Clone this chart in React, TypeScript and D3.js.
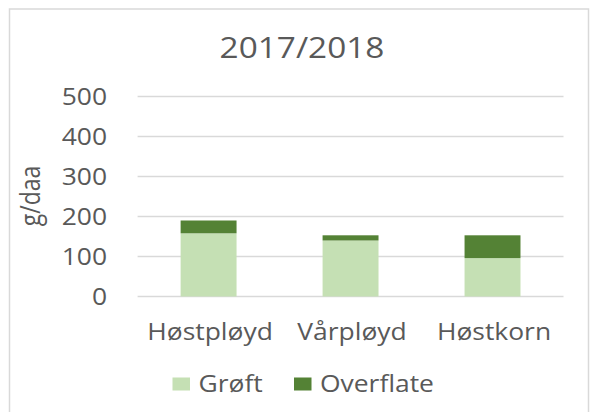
import React from "react";
import * as d3 from "d3";

const categories = ["Høstpløyd", "Vårpløyd", "Høstkorn"];
const seriesNames = ["Grøft", "Overflate"];
const groftValues = [158, 140, 96];
const overflateValues = [32, 13, 57];
const yTicks = [0, 100, 200, 300, 400, 500];
const colors = ["#C5E0B4", "#548235"];

const W = 591;
const H = 412;
const SX = 1.15;
const FONT = "'Open Sans', sans-serif";
const TXT = "#595959";

function SText(props: {
  x: number;
  y: number;
  size: number;
  anchor?: string;
  baseline?: string;
  children: React.ReactNode;
}) {
  return (
    <text
      transform={`translate(${props.x},${props.y}) scale(${SX},1)`}
      fontFamily={FONT}
      fontSize={props.size}
      fill={TXT}
      textAnchor={props.anchor || "start"}
      dominantBaseline={props.baseline || "auto"}
    >
      {props.children}
    </text>
  );
}

export default function App() {
  const x = d3
    .scaleBand<string>()
    .domain(categories)
    .range([137.6, 563.5])
    .paddingInner(0.606)
    .paddingOuter(0.303);
  const y = d3.scaleLinear().domain([0, 500]).range([296.5, 96.5]);

  const rows = categories.map((c, i) => ({
    cat: c,
    [seriesNames[0]]: groftValues[i],
    [seriesNames[1]]: overflateValues[i],
  }));
  const stack = d3.stack<any>().keys(seriesNames)(rows);

  return (
    <svg
      width={W}
      height={H}
      style={{ position: "absolute", left: 0, top: 0, background: "#fff" }}
    >
      <rect x={0} y={0} width={W} height={H} fill="#fff" />
      <rect
        x={9.5}
        y={9}
        width={579}
        height={430}
        fill="none"
        stroke="#D9D9D9"
        strokeWidth={1.5}
      />
      <SText x={302} y={58} size={29} anchor="middle">
        2017/2018
      </SText>
      {yTicks.map((t) => (
        <g key={t}>
          <line
            x1={137.6}
            x2={563.5}
            y1={y(t)}
            y2={y(t)}
            stroke="#D9D9D9"
            strokeWidth={1.5}
          />
          <SText x={107} y={y(t) + 8.3} size={23} anchor="end">
            {t}
          </SText>
        </g>
      ))}
      {stack.map((s, si) =>
        s.map((d: any, i: number) => (
          <rect
            key={si + "-" + i}
            x={x(categories[i])}
            width={x.bandwidth()}
            y={y(d[1])}
            height={y(d[0]) - y(d[1])}
            fill={colors[si]}
          />
        ))
      )}
      {categories.map((c) => (
        <SText
          key={c}
          x={(x(c) as number) + x.bandwidth() / 2 + 1.5}
          y={339.5}
          size={23}
          anchor="middle"
        >
          {c}
        </SText>
      ))}
      <text
        transform={`translate(40,196) scale(${SX},1) rotate(-90)`}
        fontFamily={FONT}
        fontSize={23}
        fill={TXT}
        textAnchor="middle"
      >
        g/daa
      </text>
      {seriesNames.map((n, i) => {
        const lx = [172.5, 294][i];
        return (
          <g key={n}>
            <rect x={lx} y={377.5} width={17.5} height={13} fill={colors[i]} />
            <SText x={lx + 26} y={391.5} size={23}>
              {n}
            </SText>
          </g>
        );
      })}
    </svg>
  );
}
